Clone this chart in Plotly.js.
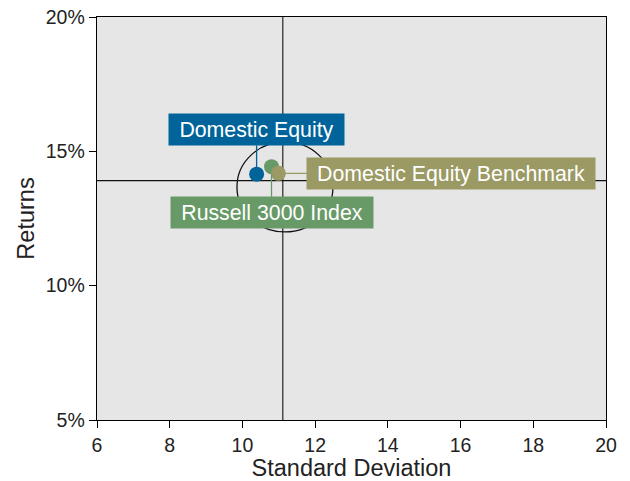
<!DOCTYPE html>
<html>
<head>
<meta charset="utf-8">
<script src="https://cdn.plot.ly/plotly-3.0.1.min.js"></script>
<style>html,body{margin:0;padding:0;background:#fff;}#chart{width:630px;height:481px;}</style>
</head>
<body>
<div id="chart"></div>
<script>
// Data
const names = ["Domestic Equity", "Russell 3000 Index", "Domestic Equity Benchmark"];
const stdDev = [10.39, 10.80, 10.99];
const returns = [14.15, 14.43, 14.18];
const colors = ["#00649B", "#689A68", "#9B9A64"];
const medianStd = 11.11;
const medianRet = 13.91;
const circleX = [9.85, 12.49];
const circleY = [12.0, 15.35];
const xTicks = [6, 8, 10, 12, 14, 16, 18, 20];
const yTicks = [5, 10, 15, 20];

const font = "Arial, 'Liberation Sans', sans-serif";

const traces = names.map((n, i) => ({
  type: "scatter", mode: "markers", name: n,
  x: [stdDev[i]], y: [returns[i]],
  marker: {size: 15, color: colors[i], line: {width: 0}},
  hoverinfo: "skip", showlegend: false
}));

// label box geometry (pixels, relative to point)
const labelCfg = [
  {ax: 0, ay: -45, w: 175, h: 31},
  {ax: 0, ay: 46, w: 202, h: 31},
  {ax: 173, ay: 0, w: 288, h: 31}
];

const annotations = names.map((n, i) => ({
  x: stdDev[i], y: returns[i], xref: "x", yref: "y",
  text: n, showarrow: true, arrowhead: 0, arrowwidth: 1.3,
  arrowcolor: colors[i], ax: labelCfg[i].ax, ay: labelCfg[i].ay,
  standoff: 7, bgcolor: colors[i], borderpad: 0,
  width: labelCfg[i].w, height: labelCfg[i].h,
  font: {family: font, size: 21.3, color: "#ffffff"}, align: "center", valign: "middle"
}));

const layout = {
  width: 630, height: 481,
  margin: {l: 97, r: 24, t: 17, b: 61},
  paper_bgcolor: "#ffffff", plot_bgcolor: "#E6E6E6",
  font: {family: font, color: "#222222"},
  xaxis: {
    range: [6, 20], tickvals: xTicks, ticktext: xTicks.map(String),
    showgrid: false, zeroline: false, showline: true, linecolor: "#000", linewidth: 1.3,
    mirror: true, ticks: "outside", ticklen: 7, tickcolor: "#000",
    tickfont: {family: font, size: 19.5, color: "#222"},
    title: {text: "Standard Deviation", font: {family: font, size: 23.5, color: "#222"}, standoff: 7}
  },
  yaxis: {
    range: [5, 20], tickvals: yTicks, ticktext: yTicks.map(v => v + "%"),
    showgrid: false, zeroline: false, showline: true, linecolor: "#000", linewidth: 1.3,
    mirror: true, ticks: "outside", ticklen: 7, tickcolor: "#000",
    tickfont: {family: font, size: 19.5, color: "#222"},
    title: {text: "Returns", font: {family: font, size: 23.5, color: "#222"}, standoff: 4}
  },
  shapes: [
    {type: "circle", xref: "x", yref: "y", x0: circleX[0], x1: circleX[1], y0: circleY[0], y1: circleY[1],
     line: {color: "#111", width: 1.3}, layer: "below"},
    {type: "line", xref: "x", yref: "paper", x0: medianStd, x1: medianStd, y0: 0, y1: 1,
     line: {color: "#333", width: 1.3}, layer: "below"},
    {type: "line", xref: "paper", yref: "y", x0: 0, x1: 1, y0: medianRet, y1: medianRet,
     line: {color: "#111", width: 1.3}, layer: "below"}
  ],
  annotations: annotations
};

Plotly.newPlot("chart", traces, layout, {displayModeBar: false, staticPlot: true});
</script>
</body>
</html>
